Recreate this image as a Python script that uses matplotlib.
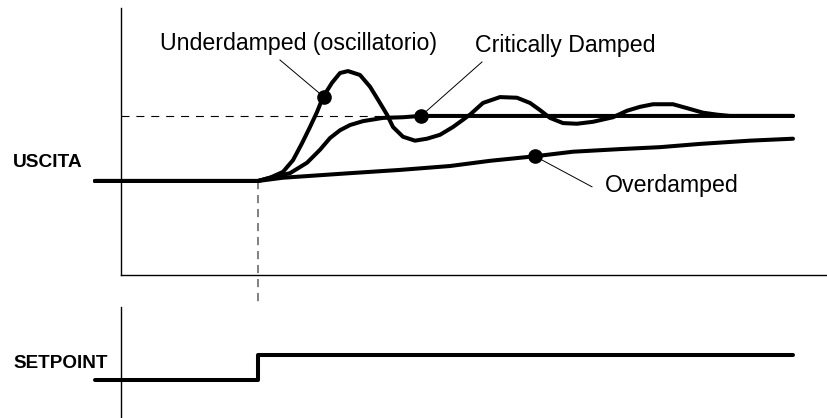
import matplotlib
matplotlib.use("Agg")
import matplotlib.pyplot as plt

plt.rcParams['font.family'] = ['Liberation Sans', 'DejaVu Sans']

# time axis: 0 = setpoint step, output in % of the new setpoint
t_under = [-163, 0, 12, 25, 35, 44, 52, 59, 65, 74, 82, 90, 102, 112, 120, 129, 135, 145,
           157, 169, 182, 195, 212, 225, 242, 259, 272, 282, 292, 305, 319, 335, 355, 369,
           382, 395, 415, 429, 445, 459, 472, 535]
y_under = [0, 0, 5, 14, 32, 58, 83, 106, 129, 151, 166, 169, 163, 145, 125, 102, 83, 68,
           62, 65, 71, 83, 102, 120, 129, 128, 120, 109, 97, 89, 88, 91, 98, 108,
           114, 118, 118, 112, 105, 102, 100, 100]

t_crit = [-163, 0, 12, 32, 49, 62, 72, 82, 92, 105, 125, 145, 162, 535]
y_crit = [0, 0, 5, 12, 28, 48, 66, 78, 86, 92, 97, 98, 100, 100]

t_over = [-163, 0, 25, 92, 142, 192, 232, 277, 315, 362, 402, 442, 492, 535]
y_over = [0, 0, 5, 12, 17, 23, 31, 38, 45, 49, 52, 57, 62, 65]

t_sp = [-163, 0, 0, 535]
y_sp = [0, 0, 1, 1]

labels = ["Underdamped (oscillatorio)", "Critically Damped", "Overdamped"]
dot_t = [66, 163, 277]
dot_y = [129, 100, 38]
lead_t = [22, 224, 334]
lead_y = [186, 183, -9]
text_t = [-98, 217, 347]
text_y = [202, 198, -17]

fig = plt.figure(figsize=(8.27, 4.18), dpi=100)
ax = fig.add_axes([121 / 827, 143 / 418, 706 / 827, 267 / 418])
ax2 = fig.add_axes([121 / 827, 1 / 418, 706 / 827, 110 / 418])

for a in (ax, ax2):
    a.set_xlim(-137, 569)
    a.set_xticks([])
    a.set_yticks([])
    for s in ['top', 'right']:
        a.spines[s].set_visible(False)
    a.spines['left'].set_linewidth(1.0)
    a.spines['bottom'].set_linewidth(1.0)
ax2.spines['bottom'].set_visible(False)
ax.set_ylim(-144.6, 266)
ax2.set_ylim(-1.48, 2.92)

# setpoint reference (dashed) and step instant
ax.plot([-137, 165], [100, 100], color='black', lw=0.8, dashes=(7.2, 6.2), zorder=1)
ax.plot([0, 0], [0, -268], color='#808080', lw=1.4, dashes=(4.2, 3.0), clip_on=False, zorder=1)

for tt, yy in [(t_under, y_under), (t_crit, y_crit), (t_over, y_over)]:
    ax.plot(tt, yy, color='black', lw=2.9, solid_capstyle='round',
            solid_joinstyle='round', clip_on=False, zorder=3)

for i in range(3):
    ax.plot([dot_t[i], lead_t[i]], [dot_y[i], lead_y[i]], color='black', lw=0.7, zorder=2)
    ax.plot(dot_t[i], dot_y[i], 'o', color='black', ms=9.5, zorder=4)
    ax.text(text_t[i], text_y[i], labels[i], fontsize=16.7, va='baseline', ha='left')

ax2.plot(t_sp, y_sp, color='black', lw=2.9, solid_capstyle='round', clip_on=False)

fig.text(13 / 827, (418 - 167) / 418, "USCITA", fontsize=13.8, fontweight='bold',
         va='baseline', ha='left')
fig.text(13 / 827, (418 - 368) / 418, "SETPOINT", fontsize=13.6, fontweight='bold',
         va='baseline', ha='left')

fig.savefig("out.png", dpi=100)
